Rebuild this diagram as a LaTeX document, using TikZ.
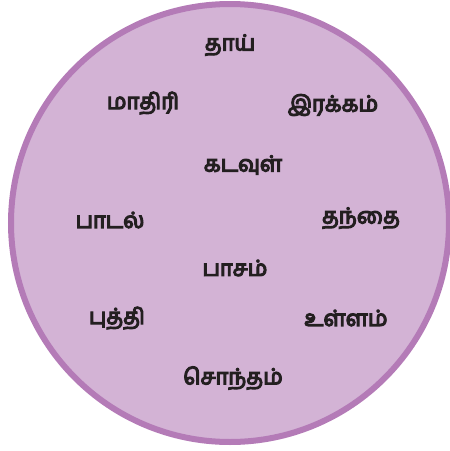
\documentclass[tikz,border=0pt]{standalone}
\usepackage{fontspec}
\usepackage{xcolor}
\usepackage{tikz}
\newfontfamily\tamilfont[Script=Tamil]{Hind Madurai}
\newcommand\heavyword[1]{\special{pdf:literal direct 2 Tr 1.2 w}#1\special{pdf:literal direct 0 Tr}}
\definecolor{ringfill}{HTML}{D3B3D5}
\definecolor{ringline}{HTML}{B47BB7}
\definecolor{wordink}{HTML}{231F20}

\begin{document}
\begin{tikzpicture}[x=1pt, y=-1pt, word/.style={font=\tamilfont\fontsize{22}{25}\selectfont, text=wordink, inner sep=0pt}]
\useasboundingbox (0,0) rectangle (450,451);
\draw[ringline, line width=6pt, fill=ringfill] (230,223) circle (219pt);
\node[word] (thai) at (230,45) {\heavyword{தாய்}};
\node[word] (mathiri) at (143,103) {\heavyword{மாதிரி}};
\node[word] (irakkam) at (333,105) {\heavyword{இரக்கம்}};
\node[word] (kadavul) at (243,165) {\heavyword{கடவுள்}};
\node[word] (padal) at (110,220) {\heavyword{பாடல்}};
\node[word] (thanthai) at (361,218) {\heavyword{தந்தை}};
\node[word] (pasam) at (235,268) {\heavyword{பாசம்}};
\node[word] (buththi) at (117,318) {\heavyword{புத்தி}};
\node[word] (ullam) at (346,318) {\heavyword{உள்ளம்}};
\node[word] (sontham) at (233,378) {\heavyword{சொந்தம்}};
\end{tikzpicture}
\end{document}
